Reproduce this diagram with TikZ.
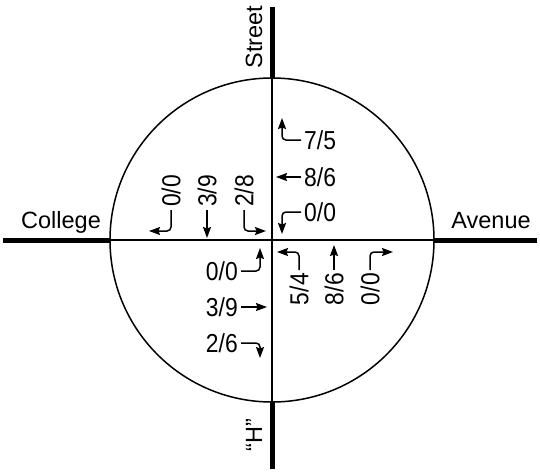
\documentclass[tikz,border=0pt]{standalone}
\usepackage{fontspec}
\setmainfont{Liberation Sans}
\newfontfamily\movefont{Liberation Sans}[FakeStretch=0.88]
\usetikzlibrary{arrows.meta}

\begin{document}
\begin{tikzpicture}[x=1pt,y=-1pt,
  lbl/.style={font=\movefont\fontsize{26}{30}\selectfont,inner sep=3pt},
  vlbl/.style={lbl,rotate=90},
  road name/.style={font=\fontsize{23.5}{28}\selectfont,inner sep=3pt},
  thin/.style={line width=1.5pt},
  road/.style={line width=5pt},
  arr/.style={thin,-{Stealth[length=11pt,width=8pt,inset=1.5pt]},rounded corners=4pt}]
  \useasboundingbox (0,0) rectangle (540,472);
  % intersection
  \node[circle,draw,thin,minimum size=324pt,inner sep=0pt,outer sep=0pt] (ring) at (272,240) {};
  \draw[thin] (ring.west) -- (ring.east);
  \draw[thin] (ring.north) -- (ring.south);
  % roads
  \coordinate (wend) at (3,240);
  \coordinate (eend) at (537,240);
  \coordinate (nend) at (272,7);
  \coordinate (send) at (272,469);
  \draw[road] (wend) -- (ring.west);
  \draw[road] (ring.east) -- (eend);
  \draw[road] (nend) -- (ring.north);
  \draw[road] (ring.south) -- (send);
  \node[road name,anchor=base] (college) at (61,228) {College};
  \node[road name,anchor=base] (avenue) at (491,228) {Avenue};
  \node[road name,rotate=90,anchor=base] (street) at (262,37) {Street};
  \node[road name,rotate=90,anchor=base] (hst) at (262,435) {“H”};
  % upper right
  \node[lbl,anchor=west] (ur75) at (301,140) {7/5};
  \node[lbl,anchor=west] (ur86) at (301,177) {8/6};
  \node[lbl,anchor=west] (ur00) at (301,212) {0/0};
  \coordinate (ur75t) at (282,118);
  \coordinate (ur86t) at (276,177);
  \coordinate (ur00t) at (282,234);
  \draw[arr] (ur75.west) -| (ur75t);
  \draw[arr] (ur86.west) -- (ur86t);
  \draw[arr] (ur00.west) -| (ur00t);
  % upper left
  \node[vlbl,anchor=west] (ul00) at (171,210) {0/0};
  \node[vlbl,anchor=west] (ul39) at (207,210) {3/9};
  \node[vlbl,anchor=west] (ul28) at (244,210) {2/8};
  \coordinate (ul00t) at (149,231);
  \coordinate (ul39t) at (207,238);
  \coordinate (ul28t) at (266,231);
  \draw[arr] (ul00.west) |- (ul00t);
  \draw[arr] (ul39.west) -- (ul39t);
  \draw[arr] (ul28.west) |- (ul28t);
  % lower left
  \node[lbl,anchor=east] (ll00) at (241,271) {0/0};
  \node[lbl,anchor=east] (ll39) at (241,307) {3/9};
  \node[lbl,anchor=east] (ll26) at (241,343) {2/6};
  \coordinate (ll00t) at (260,248);
  \coordinate (ll39t) at (267,307);
  \coordinate (ll26t) at (260,358);
  \draw[arr] (ll00.east) -| (ll00t);
  \draw[arr] (ll39.east) -- (ll39t);
  \draw[arr] (ll26.east) -| (ll26t);
  % lower right
  \node[vlbl,anchor=east] (lr54) at (299,270) {5/4};
  \node[vlbl,anchor=east] (lr86) at (334,270) {8/6};
  \node[vlbl,anchor=east] (lr00) at (370,270) {0/0};
  \coordinate (lr54t) at (277,252);
  \coordinate (lr86t) at (334,245);
  \coordinate (lr00t) at (393,252);
  \draw[arr] (lr54.east) |- (lr54t);
  \draw[arr] (lr86.east) -- (lr86t);
  \draw[arr] (lr00.east) |- (lr00t);
\end{tikzpicture}
\end{document}
